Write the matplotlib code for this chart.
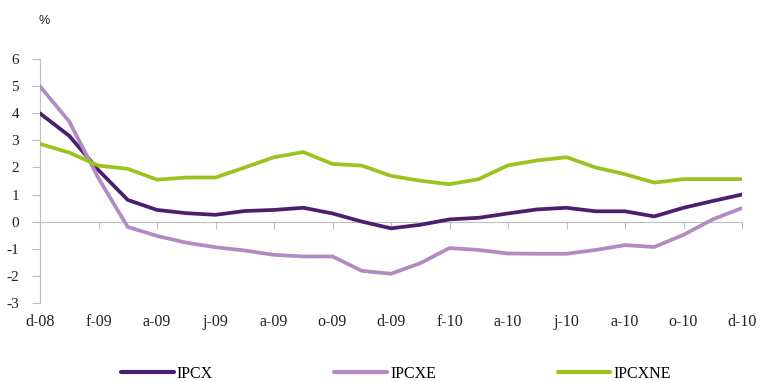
import matplotlib
matplotlib.use("Agg")
import matplotlib.pyplot as plt
import numpy as np

plt.rcParams["axes.unicode_minus"] = False

months = ["d-08", "j-09", "f-09", "m-09", "a-09", "m-09", "j-09", "j-09", "a-09", "s-09", "o-09", "n-09",
          "d-09", "j-10", "f-10", "m-10", "a-10", "m-10", "j-10", "j-10", "a-10", "s-10", "o-10", "n-10", "d-10"]
tick_labels = ["d-08", "f-09", "a-09", "j-09", "a-09", "o-09", "d-09", "f-10", "a-10", "j-10", "a-10", "o-10", "d-10"]

ipcx = [4.0, 3.17, 1.9, 0.8, 0.43, 0.31, 0.25, 0.39, 0.43, 0.51, 0.3, 0.0,
        -0.25, -0.12, 0.08, 0.14, 0.3, 0.45, 0.51, 0.38, 0.38, 0.19, 0.51, 0.76, 1.0]
ipcxe = [5.0, 3.7, 1.6, -0.2, -0.53, -0.78, -0.95, -1.07, -1.23, -1.29, -1.29, -1.82,
         -1.93, -1.54, -0.98, -1.05, -1.18, -1.19, -1.19, -1.05, -0.87, -0.94, -0.49, 0.08, 0.5]
ipcxne = [2.87, 2.55, 2.07, 1.95, 1.55, 1.63, 1.63, 2.0, 2.38, 2.57, 2.13, 2.07,
          1.69, 1.51, 1.38, 1.57, 2.08, 2.26, 2.38, 2.0, 1.75, 1.44, 1.57, 1.57, 1.57]

series = [("IPCX", ipcx, "#4B1E6E"), ("IPCXE", ipcxe, "#B28BC3"), ("IPCXNE", ipcxne, "#9BC31F")]

W, H = 760, 381
fig = plt.figure(figsize=(W / 100, H / 100), dpi=100)
left, right = 40 / W, 742 / W
top, bottom = 1 - 59.3 / H, 1 - 302.7 / H
ax = fig.add_axes([left, bottom, right - left, top - bottom])

x = np.arange(len(months))
for name, vals, col in series:
    ax.plot(x, vals, color=col, lw=2.7, label=name, solid_capstyle="round", solid_joinstyle="round")

ax.set_xlim(0, len(months) - 1)
ax.set_ylim(-3, 6)
ax.set_yticks(range(-3, 7))

gray = "#BFBFBF"
for s in ["top", "right"]:
    ax.spines[s].set_visible(False)
ax.spines["left"].set_color(gray)
ax.spines["bottom"].set_color(gray)
ax.spines["bottom"].set_position(("data", 0))
ax.spines["left"].set_zorder(0)
ax.spines["bottom"].set_zorder(0)

serif = "Liberation Serif"
ax.tick_params(axis="y", direction="out", length=6, color=gray, pad=9, labelsize=11)
for lab in ax.get_yticklabels():
    lab.set_fontfamily(serif)
    lab.set_color("#222222")

tick_pos = x[::2]
ax.set_xticks(tick_pos)
ax.set_xticklabels([])
ax.tick_params(axis="x", direction="out", length=5, color=gray)
for p, lab in zip(tick_pos, tick_labels):
    ax.text(p, -19 / 243.4, lab, transform=ax.get_xaxis_transform(), ha="center", va="center",
            fontsize=11.5, family=serif, color="#222222")

fig.text(44 / W, 1 - 21 / H, "%", ha="center", va="center", fontsize=9, family="Liberation Sans", color="#222222")

leg = fig.legend(loc="center", bbox_to_anchor=(396 / W, 1 - 374 / H), ncol=3, frameon=False,
                 prop={"family": serif, "size": 11.5}, handlelength=3.3, handletextpad=0.2,
                 columnspacing=7.6, borderpad=0)
for line in leg.get_lines():
    line.set_linewidth(3)

fig.savefig("out.png", dpi=100)
